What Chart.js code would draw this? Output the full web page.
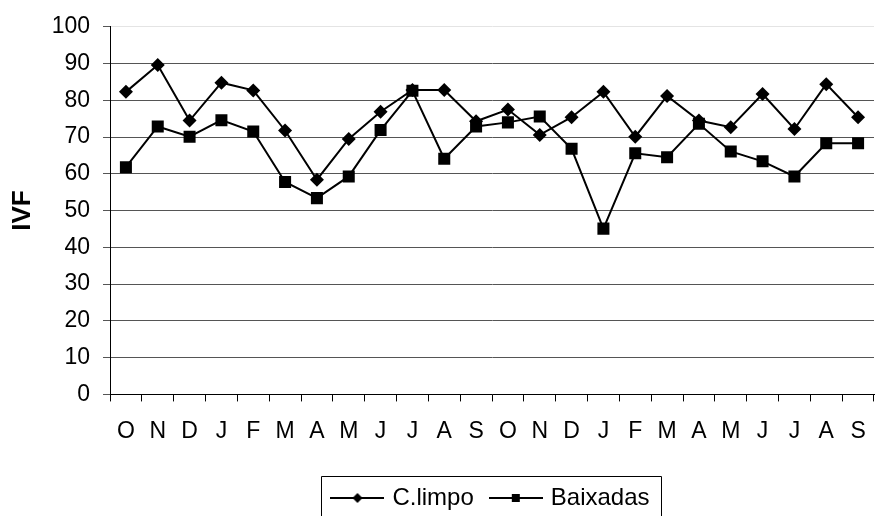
<!DOCTYPE html>
<html>
<head>
<meta charset="utf-8">
<script src="https://cdn.jsdelivr.net/npm/chart.js@4.4.1/dist/chart.umd.min.js"></script>
<style>
  html, body { margin: 0; padding: 0; background: #fff; }
  #wrap { width: 875px; height: 516px; }
</style>
</head>
<body>
<div id="wrap"><canvas id="ivf-chart"></canvas></div>
<script>
const months = ["O", "N", "D", "J", "F", "M", "A", "M", "J", "J", "A", "S",
                "O", "N", "D", "J", "F", "M", "A", "M", "J", "J", "A", "S"],
  cLimpo = [82.3, 89.6, 74.5, 84.8, 82.7, 71.8, 58.4, 69.5, 76.9, 82.8, 82.8, 74.3,
            77.5, 70.6, 75.4, 82.3, 70.1, 81.2, 74.5, 72.7, 81.7, 72.2, 84.4, 75.4],
  baixadas = [61.8, 72.9, 70.1, 74.6, 71.5, 57.8, 53.4, 59.3, 71.9, 82.6, 64.1, 72.9,
              74.0, 75.6, 66.8, 45.1, 65.6, 64.5, 73.6, 66.1, 63.4, 59.3, 68.3, 68.3],
  yTicks = [0, 10, 20, 30, 40, 50, 60, 70, 80, 90, 100],
  fam = "'Liberation Sans', Arial, sans-serif";

// legend symbol: line with marker in the middle
function legendSymbol(kind) {
  const c = document.createElement("canvas");
  c.width = 54; c.height = 14;
  const g = c.getContext("2d");
  g.strokeStyle = "#000"; g.lineWidth = 2;
  g.beginPath(); g.moveTo(0, 7); g.lineTo(54, 7); g.stroke();
  g.fillStyle = "#000";
  g.beginPath();
  if (kind === "diamond") {
    g.moveTo(27, 2); g.lineTo(32, 7); g.lineTo(27, 12); g.lineTo(22, 7);
  } else {
    g.rect(23, 3, 8, 8);
  }
  g.fill();
  return c;
}
const symbols = [legendSymbol("diamond"), legendSymbol("square")];

const legendBorder = {
  id: "legendBorder",
  afterDraw(chart) {
    const boxes = chart.legend && chart.legend.legendHitBoxes;
    if (!boxes || !boxes.length) return;
    const first = boxes[0], last = boxes[boxes.length - 1];
    const ctx = chart.ctx;
    ctx.save();
    ctx.strokeStyle = "#000";
    ctx.lineWidth = 1;
    const l = Math.round(first.left - 13) + 0.5,
      r = Math.round(last.left + last.width + 11) + 0.5,
      t = Math.round(first.top - 10) + 0.5;
    ctx.beginPath();
    ctx.moveTo(l, chart.height + 2); ctx.lineTo(l, t); ctx.lineTo(r, t); ctx.lineTo(r, chart.height + 2);
    ctx.stroke();
    ctx.restore();
  }
};

new Chart(document.getElementById("ivf-chart").getContext("2d"), {
  type: "line",
  data: {
    labels: months,
    datasets: [
      {
        label: "C.limpo",
        data: cLimpo,
        borderColor: "#000",
        backgroundColor: "#000",
        borderWidth: 2,
        pointStyle: "rectRot",
        pointRadius: 7,
        pointHoverRadius: 7,
        pointBorderWidth: 0,
        tension: 0,
        order: 1
      },
      {
        label: "Baixadas",
        data: baixadas,
        borderColor: "#000",
        backgroundColor: "#000",
        borderWidth: 2,
        pointStyle: "rect",
        pointRadius: 8.5,
        pointHoverRadius: 8.5,
        pointBorderWidth: 0,
        tension: 0,
        order: 0
      }
    ]
  },
  options: {
    responsive: true,
    maintainAspectRatio: false,
    animation: false,
    layout: { autoPadding: false, padding: { top: 24, right: 1, left: 0, bottom: -4 } },
    plugins: {
      tooltip: { enabled: false },
      legend: {
        position: "bottom",
        fullSize: false,
        labels: {
          usePointStyle: true,
          pointStyleWidth: 46,
          color: "#000",
          font: { family: fam, size: 24 },
          padding: 19,
          sort: (a, b) => a.datasetIndex - b.datasetIndex,
          generateLabels: (chart) => chart.data.datasets.map((ds, i) => ({
            text: ds.label,
            datasetIndex: i,
            pointStyle: symbols[i],
            fillStyle: "#000",
            strokeStyle: "#000",
            lineWidth: 0,
            fontColor: "#000",
            hidden: false
          }))
        }
      }
    },
    scales: {
      x: {
        offset: true,
        afterFit: (scale) => { scale.height += 6; },
        grid: {
          display: true,
          offset: true,
          drawOnChartArea: false,
          drawTicks: true,
          tickLength: 7,
          color: "#000",
          tickColor: "#000"
        },
        border: { color: "#000", width: 1 },
        ticks: {
          color: "#000",
          padding: 0,
          maxRotation: 0,
          autoSkip: false,
          font: { family: fam, size: 23, lineHeight: 2.59 }
        }
      },
      y: {
        min: 0,
        max: 100,
        afterBuildTicks: (scale) => { scale.ticks = yTicks.map((v) => ({ value: v })); },
        afterFit: (scale) => { scale.width = 110; },
        title: {
          display: true,
          text: "IVF",
          color: "#000",
          font: { family: fam, size: 26, weight: "bold" },
          padding: { top: 7, bottom: 0 }
        },
        grid: {
          color: (c) => (c.tick && c.tick.value === 100 ? "#e4e4e4" : "#555"),
          tickColor: "#555",
          tickLength: 7,
          lineWidth: 1
        },
        border: { color: "#000", width: 1 },
        ticks: {
          color: "#000",
          padding: 13,
          font: { family: fam, size: 23 }
        }
      }
    }
  },
  plugins: [legendBorder]
});
</script>
</body>
</html>
